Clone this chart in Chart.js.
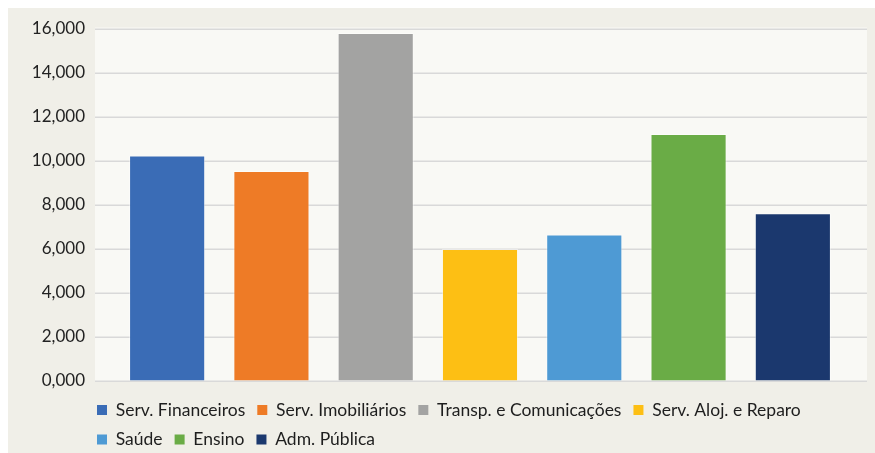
<!DOCTYPE html>
<html>
<head>
<meta charset="utf-8">
<script src="https://cdn.jsdelivr.net/npm/chart.js@4.4.1/dist/chart.umd.min.js"></script>
<style>
	html, body { margin: 0; padding: 0; background: #ffffff; }
	#chart { display: block; }
</style>
</head>
<body>
<canvas id="chart" width="875" height="453"></canvas>
<script>
// --- Data ---
const categories = ['Serv. Financeiros', 'Serv. Imobiliários', 'Transp. e Comunicações', 'Serv. Aloj. e Reparo', 'Saúde', 'Ensino', 'Adm. Pública'];
const values = [10.25, 9.55, 15.82, 6.0, 6.66, 11.23, 7.63];
const barColors = ['#3a6cb6', '#ee7b26', '#a3a3a2', '#fdbf14', '#4e9ad4', '#6aac46', '#1b386e'];
const tickValues = [0, 2, 4, 6, 8, 10, 12, 14, 16];
const tickLabels = ['0,000', '2,000', '4,000', '6,000', '8,000', '10,000', '12,000', '14,000', '16,000'];

const FONT = 'Lato, "Open Sans", sans-serif';

// background panels + horizontal gridlines wider than the bar band
const panelPlugin = {
	id: 'panel',
	beforeDraw(chart) {
		const { ctx, chartArea: a } = chart;
		const y = chart.scales.y;
		ctx.save();
		ctx.fillStyle = '#f0efe8';
		ctx.fillRect(8, 8, chart.width - 8, chart.height - 8);
		const left = a.left - 20, right = a.right + 22;
		ctx.fillStyle = '#f9f9f5';
		ctx.fillRect(left, a.top - 1.5, right - left, a.bottom - a.top + 2);
		ctx.strokeStyle = '#d9d9d9';
		ctx.lineWidth = 1.5;
		tickValues.forEach(v => {
			const py = Math.round(y.getPixelForValue(v)) + 0.25;
			ctx.beginPath();
			ctx.moveTo(left, py);
			ctx.lineTo(right, py);
			ctx.stroke();
		});
		ctx.restore();
	}
};

// legend sits under the plot, left aligned, 4 items on the first row
const legendPlacePlugin = {
	id: 'legendPlace',
	afterLayout(chart) {
		const leg = chart.legend;
		const h = leg.height;
		leg.left = 85;
		leg.right = 845;
		leg.width = 760;
		leg.top = 389.25;
		leg.bottom = 389.25 + h;
	}
};

new Chart(document.getElementById('chart'), {
	type: 'bar',
	data: {
		labels: categories,
		datasets: [{
			data: values,
			backgroundColor: barColors,
			borderColor: 'rgba(255,255,255,0.45)',
			borderWidth: 1,
			barPercentage: 0.73,
			categoryPercentage: 1
		}]
	},
	options: {
		responsive: false,
		animation: false,
		devicePixelRatio: 1,
		layout: { padding: { top: 29, right: 30, bottom: 3, left: 0 } },
		plugins: {
			tooltip: { enabled: false },
			legend: {
				position: 'bottom',
				align: 'start',
				labels: {
					boxWidth: 10,
					boxHeight: 10,
					padding: 12,
					color: '#1e1e1e',
					font: { family: FONT, size: 17.5 },
					generateLabels: (chart) => categories.map((c, i) => ({
						text: c,
						fillStyle: barColors[i],
						strokeStyle: barColors[i],
						lineWidth: 0,
						fontColor: '#1e1e1e',
						index: i
					}))
				}
			}
		},
		scales: {
			x: {
				display: false,
				grid: { display: false }
			},
			y: {
				min: 0,
				max: 16,
				afterFit: (scale) => { scale.width = 115; },
				afterBuildTicks: (scale) => { scale.ticks = tickValues.map(v => ({ value: v })); },
				grid: { drawOnChartArea: false, drawTicks: true, tickLength: 20, tickColor: 'rgba(0,0,0,0)' },
				border: { display: false },
				ticks: {
					padding: 10,
					color: '#222222',
					font: { family: FONT, size: 17 },
					callback: (v) => tickLabels[tickValues.indexOf(v)]
				}
			}
		}
	},
	plugins: [panelPlugin, legendPlacePlugin]
});
</script>
</body>
</html>
